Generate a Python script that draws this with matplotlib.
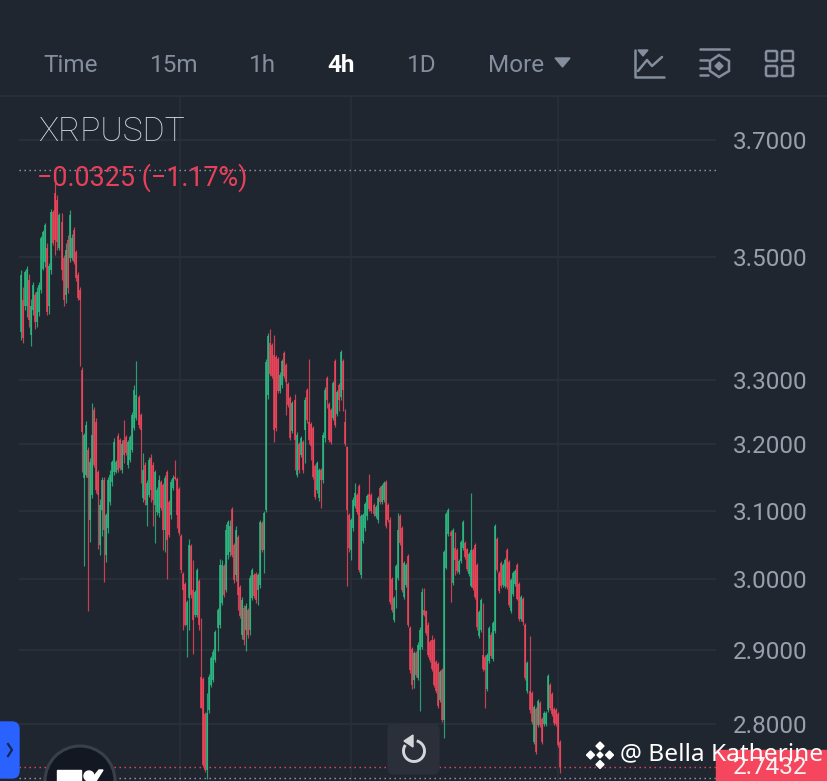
import matplotlib
matplotlib.use("Agg")
import numpy as np
import matplotlib.pyplot as plt
from matplotlib.patches import FancyBboxPatch, Circle, Polygon, Rectangle, Arc

opens = [
3.376,3.428,3.419,3.419,3.461,3.371,3.411,3.436,3.392,3.408,
3.444,3.480,3.491,3.514,3.418,3.477,3.575,3.608,3.596,3.514,
3.558,3.498,3.436,3.528,3.498,3.498,3.544,3.508,3.469,3.444,
3.315,3.149,3.153,3.191,3.086,3.124,3.253,3.234,3.158,3.050,
3.101,3.146,3.035,3.074,3.113,3.143,3.158,3.158,3.212,3.206,
3.161,3.206,3.211,3.168,3.176,3.191,3.225,3.240,3.273,3.245,
3.119,3.168,3.109,3.124,3.179,3.168,3.109,3.098,3.097,3.143,
3.138,3.071,3.158,3.113,3.093,3.134,3.150,3.147,3.132,3.063,
3.008,2.993,2.935,2.973,3.048,2.985,2.949,2.949,2.997,2.863,
2.860,2.813,2.739,2.819,2.853,2.859,2.887,2.931,2.935,2.966,
3.019,2.985,3.035,3.039,3.102,3.050,3.006,3.061,2.989,2.921,
2.960,2.928,2.956,2.928,2.974,3.006,3.008,2.985,2.992,3.082,
3.042,3.101,3.276,3.358,3.355,3.339,3.336,3.333,3.283,3.291,
3.342,3.323,3.294,3.271,3.220,3.268,3.153,3.200,3.183,3.203,
3.222,3.284,3.234,3.231,3.225,3.167,3.131,3.119,3.161,3.146,
3.209,3.303,3.262,3.253,3.240,3.329,3.246,3.292,3.273,3.329,
3.234,3.195,3.093,3.042,3.074,3.107,3.124,3.137,3.006,3.056,
3.074,3.092,3.125,3.124,3.109,3.092,3.086,3.134,3.113,3.116,
3.143,3.109,3.087,3.000,2.942,2.985,3.002,3.092,3.075,2.975,
2.992,3.034,2.931,2.902,2.859,2.897,2.862,2.901,2.905,2.956,
2.955,2.936,2.911,2.914,2.914,2.884,2.881,2.832,2.873,2.805,
3.017,3.066,3.069,2.995,3.045,3.042,3.010,3.026,3.045,3.052,
3.044,3.008,2.991,3.042,3.050,3.020,2.920,2.928,2.894,2.891,
2.847,2.886,2.922,2.888,2.927,3.058,3.009,3.023,2.992,2.991,
3.042,3.025,2.955,2.979,2.993,3.020,2.993,2.944,2.972,2.935,
2.845,2.845,2.842,2.776,2.820,2.799,2.828,2.806,2.800,2.800,
2.819,2.853,2.840,2.820,2.819,2.813,2.776]
closes = [
3.469,3.366,3.474,3.480,3.395,3.419,3.453,3.392,3.441,3.453,
3.531,3.541,3.553,3.408,3.484,3.575,3.523,3.528,3.524,3.570,
3.477,3.428,3.511,3.448,3.570,3.531,3.491,3.464,3.431,3.428,
3.219,3.214,3.229,3.149,3.173,3.214,3.168,3.131,3.124,3.109,
3.146,3.071,3.093,3.146,3.153,3.173,3.203,3.173,3.161,3.164,
3.201,3.183,3.186,3.203,3.211,3.245,3.284,3.276,3.229,3.222,
3.161,3.116,3.141,3.176,3.131,3.116,3.158,3.131,3.146,3.104,
3.071,3.149,3.057,3.064,3.143,3.149,3.147,3.093,3.067,3.013,
2.985,2.935,2.968,3.050,2.978,2.942,2.982,3.013,2.935,2.822,
2.745,2.739,2.815,2.863,2.890,2.898,2.925,2.956,3.020,3.020,
2.978,3.071,3.083,3.078,3.035,2.999,3.071,2.978,2.948,2.971,
2.914,2.962,2.921,3.002,3.013,2.976,2.971,3.006,3.083,3.042,
3.097,3.328,3.369,3.309,3.306,3.222,3.225,3.283,3.308,3.329,
3.306,3.297,3.261,3.209,3.264,3.206,3.214,3.161,3.209,3.161,
3.268,3.237,3.206,3.198,3.150,3.121,3.171,3.161,3.146,3.214,
3.284,3.268,3.206,3.204,3.295,3.229,3.281,3.268,3.344,3.284,
3.201,3.101,3.045,3.086,3.116,3.127,3.098,3.013,3.092,3.093,
3.110,3.122,3.103,3.100,3.095,3.105,3.119,3.113,3.137,3.141,
3.078,3.086,2.968,2.956,2.974,3.019,3.071,3.053,2.985,3.023,
3.020,2.935,2.873,2.853,2.897,2.866,2.908,2.928,2.982,2.950,
2.924,2.894,2.887,2.874,2.853,2.845,2.824,2.870,2.805,3.039,
3.095,3.101,3.063,3.071,3.028,3.012,3.026,3.054,3.083,3.032,
3.015,3.037,3.042,2.988,2.975,2.932,2.953,2.971,2.874,2.873,
2.894,2.931,2.892,2.938,3.077,3.013,2.984,2.991,3.020,3.028,
2.989,2.964,2.999,3.009,3.012,2.972,2.944,2.975,2.939,2.862,
2.883,2.818,2.803,2.823,2.763,2.831,2.799,2.776,2.815,2.815,
2.865,2.822,2.813,2.801,2.800,2.772,2.743]
highs = [
3.477,3.449,3.477,3.484,3.471,3.430,3.458,3.441,3.449,3.458,
3.535,3.544,3.556,3.523,3.489,3.580,3.578,3.625,3.604,3.573,
3.573,3.503,3.523,3.536,3.578,3.538,3.549,3.511,3.474,3.449,
3.320,3.217,3.235,3.195,3.179,3.264,3.258,3.240,3.161,3.118,
3.150,3.150,3.097,3.150,3.161,3.176,3.209,3.176,3.217,3.209,
3.206,3.237,3.214,3.206,3.214,3.250,3.292,3.329,3.276,3.248,
3.186,3.173,3.146,3.180,3.185,3.173,3.161,3.135,3.153,3.146,
3.141,3.153,3.161,3.116,3.147,3.153,3.176,3.150,3.135,3.066,
3.010,2.996,2.971,3.058,3.051,3.028,2.985,3.017,3.000,2.945,
2.863,2.816,2.841,2.867,2.892,2.902,2.928,2.960,3.029,3.028,
3.022,3.080,3.087,3.086,3.105,3.052,3.078,3.064,2.992,2.975,
2.964,2.966,2.959,3.006,3.017,3.009,3.010,3.009,3.086,3.085,
3.100,3.333,3.374,3.381,3.358,3.371,3.339,3.336,3.312,3.333,
3.345,3.326,3.297,3.275,3.267,3.278,3.219,3.203,3.212,3.206,
3.273,3.287,3.333,3.234,3.228,3.170,3.174,3.164,3.164,3.219,
3.289,3.306,3.265,3.256,3.298,3.333,3.284,3.295,3.348,3.333,
3.254,3.198,3.097,3.089,3.121,3.141,3.127,3.140,3.095,3.097,
3.113,3.125,3.155,3.127,3.112,3.109,3.122,3.137,3.140,3.144,
3.146,3.112,3.090,3.003,2.976,3.022,3.097,3.095,3.078,3.026,
3.023,3.037,2.934,2.905,2.899,2.899,2.911,2.932,2.988,2.988,
2.957,2.939,2.914,2.922,2.917,2.887,2.884,2.873,2.876,3.042,
3.098,3.104,3.072,3.074,3.069,3.045,3.029,3.057,3.086,3.055,
3.046,3.039,3.127,3.045,3.053,3.023,2.956,2.974,2.967,2.894,
2.897,2.934,2.925,2.941,3.080,3.061,3.012,3.026,3.023,3.031,
3.045,3.028,3.002,3.012,3.015,3.023,2.996,2.978,2.975,2.938,
2.886,2.920,2.845,2.826,2.823,2.834,2.831,2.809,2.817,2.817,
2.867,2.855,2.843,2.823,2.822,2.816,2.779]
lows = [
3.363,3.358,3.411,3.400,3.385,3.353,3.403,3.381,3.384,3.402,
3.439,3.477,3.482,3.403,3.406,3.471,3.519,3.503,3.511,3.511,
3.461,3.419,3.424,3.439,3.491,3.494,3.488,3.459,3.428,3.321,
3.158,3.019,3.150,2.955,3.054,3.119,3.165,3.127,3.044,3.035,
3.063,2.996,3.025,3.067,3.109,3.137,3.153,3.156,3.158,3.161,
3.156,3.171,3.183,3.164,3.173,3.188,3.222,3.237,3.225,3.141,
3.113,3.109,3.078,3.121,3.113,3.077,3.053,3.094,3.090,3.101,
3.042,3.039,3.000,3.061,3.088,3.131,3.146,3.074,3.064,3.009,
2.928,2.934,2.891,2.928,2.974,2.895,2.946,2.946,2.928,2.822,
2.743,2.736,2.727,2.815,2.850,2.856,2.884,2.899,2.931,2.964,
2.975,2.982,3.029,3.033,3.032,2.995,2.997,2.956,2.945,2.916,
2.907,2.899,2.917,2.922,2.971,2.974,2.967,2.964,2.988,3.039,
3.009,3.098,3.270,3.306,3.303,3.203,3.220,3.279,3.279,3.287,
3.303,3.245,3.258,3.206,3.217,3.161,3.150,3.156,3.180,3.156,
3.171,3.233,3.201,3.176,3.147,3.118,3.127,3.115,3.104,3.141,
3.204,3.256,3.204,3.201,3.237,3.226,3.243,3.251,3.268,3.251,
3.198,2.991,3.039,3.028,3.070,3.104,3.095,3.010,3.002,3.053,
3.070,3.087,3.100,3.097,3.092,3.089,3.082,3.110,3.110,3.113,
3.075,3.083,2.965,2.953,2.939,2.959,2.999,3.050,2.982,2.972,
2.989,2.932,2.869,2.847,2.848,2.863,2.859,2.817,2.902,2.948,
2.921,2.891,2.884,2.872,2.850,2.842,2.822,2.829,2.802,2.781,
3.015,3.063,2.968,2.992,3.006,3.009,3.008,3.023,3.042,3.029,
3.012,3.005,2.989,2.985,2.972,2.929,2.917,2.925,2.872,2.822,
2.844,2.883,2.890,2.886,2.924,3.010,2.981,2.988,2.989,2.988,
2.986,2.961,2.952,2.976,2.991,2.970,2.941,2.941,2.936,2.859,
2.842,2.815,2.800,2.773,2.760,2.796,2.796,2.773,2.797,2.797,
2.816,2.819,2.810,2.799,2.797,2.769,2.735]

tick_prices = [3.7, 3.5, 3.3, 3.2, 3.1, 3.0, 2.9, 2.8]
tab_labels = ["Time", "15m", "1h", "4h", "1D", "More"]
last_price = 2.7432
session_high = 3.648
session_low = 2.7285
session_marks = [78.5, 162.9, 265.0]

BG = "#1f2630"; GRID = "#2a303a"; GREEN = "#2ebd85"; RED = "#f6465d"
GREY = "#848e9c"; TICK = "#98a0ac"
W, H = 828, 781
FONT = "Roboto"

fig = plt.figure(figsize=(W/100, H/100), dpi=100, facecolor=BG)
TOP, RIGHT = 97, 716
ax = fig.add_axes([0, 0, RIGHT/W, (H-TOP)/H], facecolor=BG)
ax.set_yscale("log")
ax.set_ylim(2.7247, 3.777)
ax.set_xlim(-21/2.026, (RIGHT-21)/2.026)
for s in ax.spines.values():
    s.set_visible(False)
ax.set_xticks([])
ax.yaxis.tick_right()
ax.set_yticks(tick_prices)
ax.set_yticklabels([f"{p:.4f}" for p in tick_prices], fontsize=17.5, color=TICK, family=FONT)
ax.yaxis.set_minor_locator(matplotlib.ticker.NullLocator())
ax.tick_params(axis="y", length=0, pad=12)

x0 = -1
xr = ax.get_xlim()[1]
ax.hlines(tick_prices, x0, xr, color=GRID, lw=1.4, zorder=1)
ax.vlines(session_marks, 2.7247, 3.777, color=GRID, lw=1.1, zorder=1)
ax.hlines(session_high, x0, xr, color="#9aa2ad", lw=1.0, linestyles=(0, (1, 2.6)), zorder=2)
ax.hlines(session_low, x0, xr, color="#9aa2ad", lw=1.0, linestyles=(0, (1, 2.6)), zorder=2)
ax.hlines(last_price, x0, xr, color=RED, lw=1.0, linestyles=(0, (1, 2.6)), zorder=2)

o = np.array(opens); c = np.array(closes); hi = np.array(highs); lo = np.array(lows)
idx = np.arange(len(o))
cols = np.where(c >= o, GREEN, RED)
ax.vlines(idx, lo, hi, colors=cols, lw=0.85, alpha=0.8, zorder=3)
ax.vlines(idx, np.minimum(o, c), np.maximum(o, c), colors=cols, lw=1.1, zorder=4)

# chrome overlay in pixel coordinates
ch = fig.add_axes([0, 0, 1, 1], facecolor="none")
ch.set_xlim(0, W); ch.set_ylim(H, 0); ch.axis("off")
ch.plot([0, W], [96, 96], color=GRID, lw=1.4)

tab_x = [43, 150, 249, 327, 407, 488]
for lab, tx in zip(tab_labels, tab_x):
    active = lab == "4h"
    ch.text(tx, 66, lab, color="white" if active else GREY, fontsize=17.5,
            family=FONT, weight="bold" if active else "normal", va="center", ha="left")
ch.add_patch(Polygon([[555, 58], [570, 58], [562.5, 67]], color=GREY))

# toolbar icons
ic = dict(color=GREY, lw=1.8, solid_capstyle="round", solid_joinstyle="round")
ch.plot([635, 635, 664], [50, 77, 77], **ic)
ch.plot([638, 647, 652, 662], [71, 60, 66, 57], **ic)
ch.add_patch(Polygon([[638, 50], [648, 50], [643, 56]], color=GREY))
ch.plot([700, 729], [49, 49], **ic)
ch.plot([700, 708], [60, 60], **ic); ch.plot([700, 708], [68, 68], **ic)
ch.plot([700, 708], [75, 75], **ic)
ch.add_patch(Polygon([[719, 55], [729, 61], [729, 71], [719, 77], [710, 71], [710, 61]],
                     fill=False, ec=GREY, lw=1.8))
ch.add_patch(Polygon([[719, 62], [723, 66], [719, 70], [715, 66]], color=GREY))
for gx in (766, 782):
    for gy in (51, 66):
        ch.add_patch(FancyBboxPatch((gx, gy), 11, 10, boxstyle="round,pad=0,rounding_size=1.5",
                                    fill=False, ec=GREY, lw=1.8))

ch.text(38, 132, "XRPUSDT", color="#d5d8dd", fontsize=24.2, family=FONT, weight="light", va="center")
ch.text(37, 178, "\u22120.0325 (\u22121.17%)", color="#e8405a", fontsize=19.4, family=FONT, va="center")

# last price tag
ch.add_patch(Rectangle((716, 750), 112, 31, color=RED, zorder=5))
ch.text(733, 768, "2.7432", color="#f2f2f2", fontsize=17.5, family=FONT, va="center", zorder=6)

# reset button
ch.add_patch(FancyBboxPatch((388, 724), 51, 50, boxstyle="round,pad=0,rounding_size=6",
                            color="#2a2f3a", zorder=5))
ch.add_patch(Arc((414, 751), 21, 21, theta1=-75, theta2=215, color="#d4d6da", lw=2.1, zorder=6))
ch.add_patch(Polygon([[404, 741], [413, 735], [413, 747]], color="#d4d6da", zorder=6))

# side tab
ch.add_patch(FancyBboxPatch((-8, 722), 27, 56, boxstyle="round,pad=0,rounding_size=7",
                            color="#2962ff", zorder=5))
ch.plot([8, 12, 8], [744, 750, 756], color="#14284f", lw=1.6, zorder=6)

# TradingView badge
badge = Circle((80, 781), 35, fc="#131722", ec="#3a404b", lw=2.2, zorder=5, clip_on=True)
ch.add_patch(badge)
ch.add_patch(Rectangle((57, 770), 24, 12, color="white", zorder=6))
ch.add_patch(Circle((89, 776), 5, color="white", zorder=6))
ch.add_patch(Polygon([[90, 781], [99, 770], [103, 770], [96, 781]], color="white", zorder=6))

# watermark
wm = "white"
for (cx, cy, r) in [(600, 746, 4), (590.5, 755, 4), (609.5, 755, 4), (600, 764.5, 4)]:
    ch.add_patch(Polygon([[cx, cy-r], [cx+r, cy], [cx, cy+r], [cx-r, cy]], color=wm, zorder=7))
ch.add_patch(Polygon([[600, 752], [603, 755], [600, 758], [597, 755]], color=wm, zorder=7))
ch.text(620, 754, "@ Bella Katherine", color=wm, fontsize=17.6, family="Noto Sans", va="center", zorder=7)

fig.savefig("out.png", dpi=100, facecolor=BG)
